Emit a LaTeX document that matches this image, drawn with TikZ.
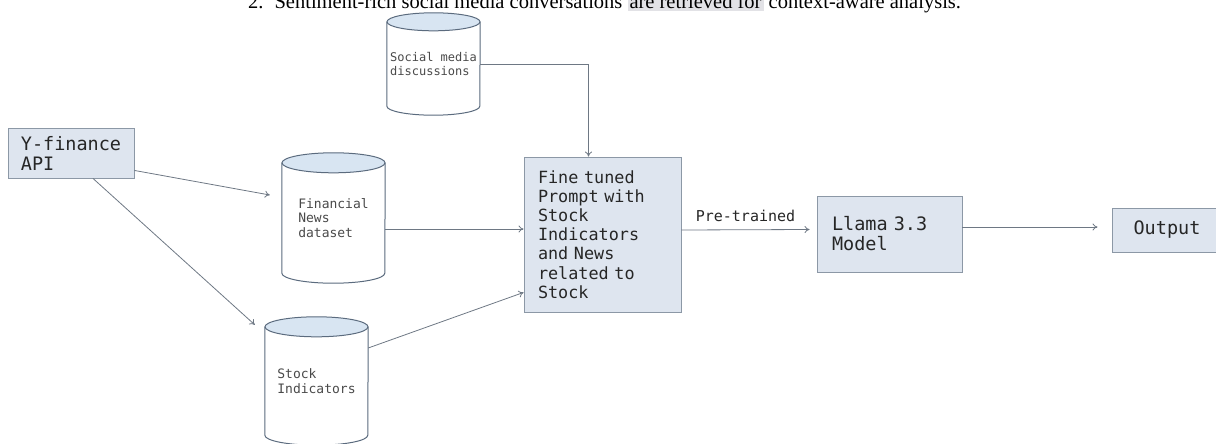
\documentclass[tikz,border=0pt]{standalone}
\usepackage{fontspec}
\setmainfont{Liberation Serif}
\newfontfamily\monof{DejaVu Sans Mono}
\usetikzlibrary{arrows.meta,calc,backgrounds}
\definecolor{boxfill}{HTML}{DEE5EF}
\definecolor{boxline}{HTML}{8C98A6}
\definecolor{cylline}{HTML}{5B6B7E}
\definecolor{cyltopc}{HTML}{D8E5F2}
\definecolor{arrcol}{HTML}{6E7884}
\definecolor{hlcol}{HTML}{E2E2E6}
\definecolor{cyltext}{HTML}{4A4A4A}
\newcommand{\drawcyl}[3]{%
  \filldraw[draw=cylline, fill=white, line width=1pt]
    ($(#1.north west)+(0,#3)$) -- ($(#1.south west)+(0,-#3)$)
    arc[start angle=180, end angle=0, x radius=#2, y radius=#3]
    -- ($(#1.north east)+(0,#3)$);
  \filldraw[draw=cylline, fill=cyltopc, line width=1pt]
    ($(#1.north)+(0,#3)$) ellipse[x radius=#2, y radius=#3];
}
\begin{document}
\begin{tikzpicture}[x=1pt,y=-1pt,
  box/.style={draw=boxline, fill=boxfill, line width=0.9pt, inner sep=0pt,
    align=left, text=black!85},
  bigtext/.style={font=\monof\fontsize{18.5}{20}\selectfont},
  cylnode/.style={inner sep=0pt, align=left, text=cyltext},
  arr/.style={draw=arrcol, line width=0.8pt, -{To[length=5pt,width=7pt]}},
]
\useasboundingbox (0,0) rectangle (1216,444);

% top text line (cut off by the page edge)
\node[anchor=base west, inner sep=0pt, font=\fontsize{20.5}{22}\selectfont] (caption) at (248,9)
  {2.\hspace{11pt}Sentiment-rich social media conversations {\setlength{\fboxsep}{2pt}\colorbox{hlcol}{are retrieved for}} context-aware analysis.};

% nodes
\node[box, bigtext, minimum width=126pt, minimum height=50pt] (yf) at (71,153) {Y-finance\\API};

\node[cylnode, minimum width=93pt, minimum height=102pt,
  font=\monof\fontsize{12}{14}\selectfont] (soc) at (433.5,64) {Social media\\discussions};
\node[cylnode, minimum width=103pt, minimum height=130pt,
  font=\monof\fontsize{13}{14.5}\selectfont] (fin) at (333.5,218) {Financial\\News\\dataset};
\node[cylnode, minimum width=103pt, minimum height=128pt,
  font=\monof\fontsize{13}{14.5}\selectfont] (stk) at (316.5,381) {Stock\\Indicators};

\node[box, font=\monof\fontsize{16.8}{19.2}\selectfont, text width=129pt,
  minimum width=157pt, minimum height=155pt] (fine) at (602.5,234.5)
  {Fine tuned\\Prompt with\\Stock\\Indicators\\and News\\related to\\Stock};

\node[box, bigtext, text width=115pt, minimum width=145pt, minimum height=76pt] (llama) at (889.5,234)
  {Llama 3.3\\Model};

\node[box, bigtext, minimum width=110pt, minimum height=44pt] (out) at (1167,230) {Output};

\begin{pgfonlayer}{background}
  \drawcyl{soc}{46.5}{9}
  \drawcyl{fin}{51.5}{10}
  \drawcyl{stk}{51.5}{10}
\end{pgfonlayer}

% connectors
\draw[arr] (soc.east) -| ([xshift=-14pt]fine.north);
\draw[arr] ([yshift=8pt]yf.south east) -- ([xshift=-12pt,yshift=23pt]fin.west);
\draw[arr] ([xshift=22pt]yf.south) -- ([xshift=-10pt,yshift=-8pt]stk.north west);
\draw[arr] ([yshift=-11pt]fin.east) -- ([yshift=5.5pt]fine.west);
\draw[arr] ([yshift=33pt]stk.east) -- ([yshift=20pt]fine.south west);
\draw[arr] ([yshift=4.5pt]fine.east) -- node[above=4pt, font=\monof\fontsize{15}{17}\selectfont, text=black!85] (pt) {Pre-trained} ([xshift=-7pt,yshift=4.5pt]llama.west);
\draw[arr] ([yshift=7pt]llama.east) -- ([xshift=-14pt,yshift=3pt]out.west);
\end{tikzpicture}
\end{document}
